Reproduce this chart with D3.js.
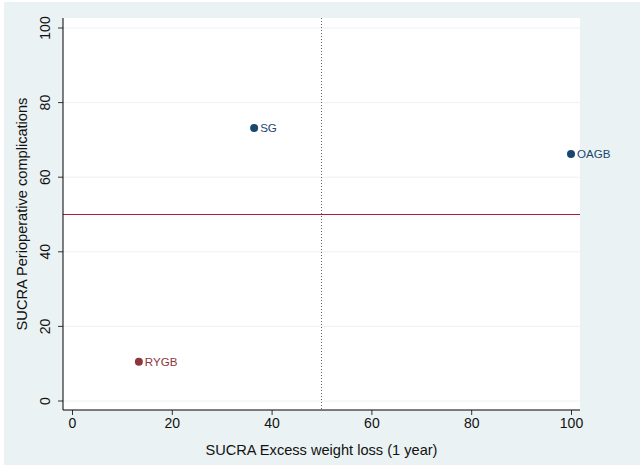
<!DOCTYPE html>
<html><head><meta charset="utf-8">
<script src="https://cdn.jsdelivr.net/npm/d3@7"></script>
<style>body{margin:0;background:#fff}svg{display:block}text{font-family:"Liberation Sans",Arial,sans-serif}</style>
</head><body><svg id="c" width="640" height="467"></svg>
<script>
const names = ["SG", "OAGB", "RYGB"];
const xValues = [36.5, 100, 13.4];
const yValues = [73.2, 66.2, 10.5];
const colors = ["#1a476f", "#1a476f", "#90353b"];
const ticks = [0, 20, 40, 60, 80, 100];
const refX = 50, refY = 50;

const svg = d3.select("#c");
svg.append("rect").attr("x",4).attr("y",2).attr("width",636).attr("height",463).attr("fill","#eaf2f3");
const L=63, R=580, T=18, B=410;
svg.append("rect").attr("x",L).attr("y",T).attr("width",R-L).attr("height",B-T).attr("fill","#fff");
const x = d3.scaleLinear().domain([0,100]).range([72,571]);
const y = d3.scaleLinear().domain([0,100]).range([401,28]);

// gridlines
svg.append("g").selectAll("line").data(ticks).join("line")
  .attr("x1",L).attr("x2",R).attr("y1",d=>y(d)).attr("y2",d=>y(d))
  .attr("stroke","#eaf2f3").attr("stroke-width",1);

// reference lines
svg.append("line").attr("x1",L).attr("x2",R).attr("y1",y(refY)).attr("y2",y(refY))
  .attr("stroke","#b11f2e").attr("stroke-width",1.2);
svg.append("line").attr("x1",x(refX)).attr("x2",x(refX)).attr("y1",T).attr("y2",B)
  .attr("stroke","#666").attr("stroke-width",1).attr("stroke-dasharray","1,2");

// axes
const xa = svg.append("g").attr("transform",`translate(0,${B})`)
  .call(d3.axisBottom(x).tickValues(ticks).tickSize(5).tickPadding(3).tickFormat(d3.format("d")));
const ya = svg.append("g").attr("transform",`translate(${L},0)`)
  .call(d3.axisLeft(y).tickValues(ticks).tickSize(5).tickPadding(3).tickFormat(d3.format("d")));
[xa,ya].forEach(a=>{
  a.select(".domain").remove();
  a.selectAll("line").attr("stroke","#333");
  a.selectAll("text").attr("fill","#111").style("font-size","14px").style("font-family",'"Liberation Sans",Arial,sans-serif');
});
ya.selectAll("text").attr("text-anchor","middle").attr("x",null).attr("dy",null)
  .attr("transform",d=>`translate(-18,${y(d)}) rotate(-90)`).attr("y",0).attr("dy","0.35em");
ya.selectAll(".tick").attr("transform",null);
ya.selectAll(".tick line").attr("y1",d=>y(d)).attr("y2",d=>y(d));
svg.append("line").attr("x1",L).attr("x2",L).attr("y1",T).attr("y2",B).attr("stroke","#000");
svg.append("line").attr("x1",L).attr("x2",R).attr("y1",B).attr("y2",B).attr("stroke","#000");

// titles
svg.append("text").attr("x",(L+R)/2).attr("y",455).attr("text-anchor","middle")
  .style("font-size","14.6px").attr("fill","#111").text("SUCRA Excess weight loss (1 year)");
svg.append("text").attr("transform",`translate(27,${(T+B)/2}) rotate(-90)`).attr("text-anchor","middle")
  .style("font-size","14.6px").attr("fill","#111").text("SUCRA Perioperative complications");

// points
const pts = svg.append("g").selectAll("g").data(names).join("g");
pts.append("circle").attr("cx",(d,i)=>x(xValues[i])).attr("cy",(d,i)=>y(yValues[i])).attr("r",4)
  .attr("fill",(d,i)=>colors[i]);
pts.append("text").attr("x",(d,i)=>x(xValues[i])+6).attr("y",(d,i)=>y(yValues[i])).attr("dy","0.36em")
  .style("font-size","11.6px").attr("fill",(d,i)=>colors[i]).text(d=>d);
</script></body></html>
